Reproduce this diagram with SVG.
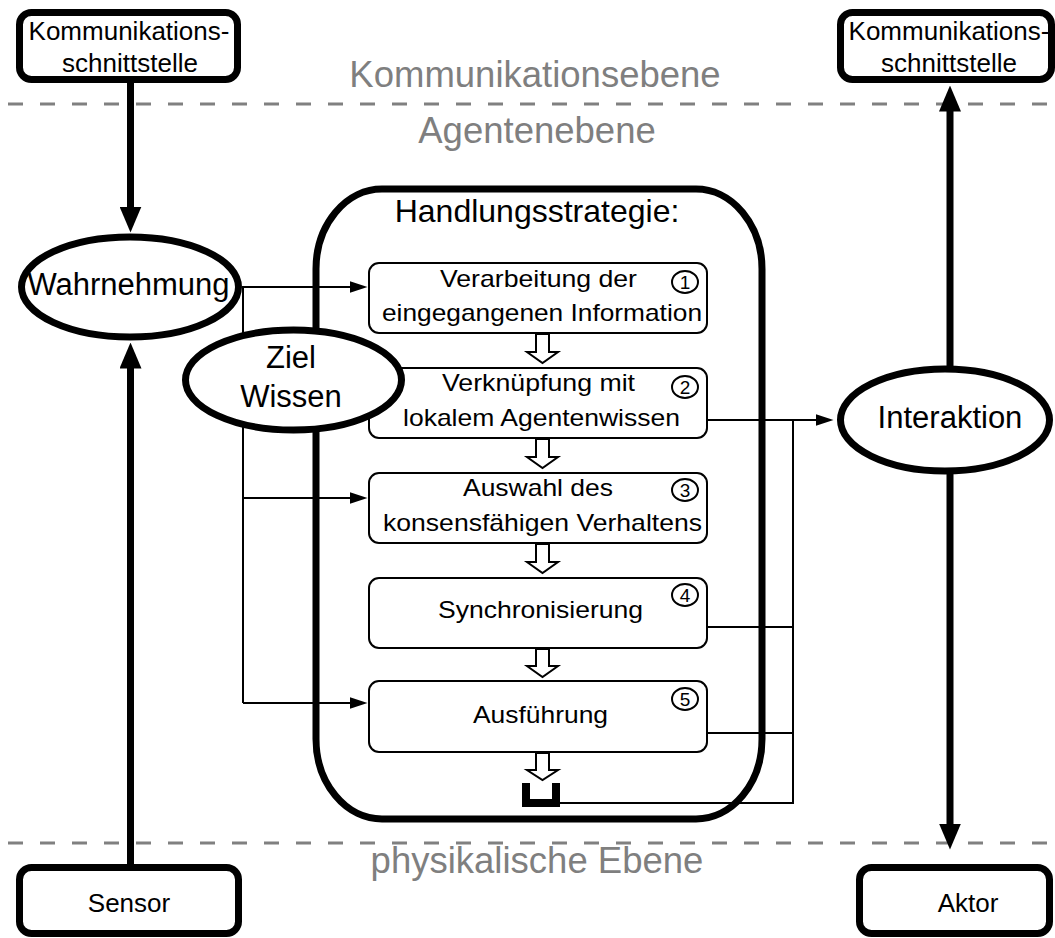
<svg xmlns="http://www.w3.org/2000/svg" width="1055" height="938" viewBox="0 0 1055 938">
  <style>
    .txt { font-family: "Liberation Sans", Arial, sans-serif; fill: #000; }
    .layer { font-family: "Liberation Sans", Arial, sans-serif; fill: #7f7f7f; font-size: 36.5px; text-anchor: middle; }
    .sep { stroke: #808080; stroke-width: 3; stroke-dasharray: 15 17; fill: none; }
    .iface { fill: #fff; stroke: #000; stroke-width: 7; }
    .oval { fill: #fff; stroke: #000; stroke-width: 7; }
    .step { fill: #fff; stroke: #000; stroke-width: 2; }
    .steptxt { font-family: "Liberation Sans", Arial, sans-serif; fill: #000; font-size: 24px; }
    .num { fill: #fff; stroke: #000; stroke-width: 2; }
    .numtxt { font-family: "Liberation Sans", Arial, sans-serif; fill: #000; font-size: 19px; text-anchor: middle; }
    .thick { stroke: #000; stroke-width: 7; fill: none; }
    .thin { stroke: #000; stroke-width: 2; fill: none; }
    .flow { fill: #fff; stroke: #000; stroke-width: 2; stroke-linejoin: miter; }
  </style>
  <defs>
    <marker id="headBig" markerUnits="userSpaceOnUse" viewBox="0 0 26 22" markerWidth="26" markerHeight="22" refX="0.5" refY="11" orient="auto">
      <path d="M0,0 L26,11 L0,22 z" fill="#000"/>
    </marker>
    <marker id="headSmall" markerUnits="userSpaceOnUse" viewBox="0 0 18 12" markerWidth="18" markerHeight="12" refX="0.5" refY="6" orient="auto">
      <path d="M0,0 L18,6 L0,12 z" fill="#000"/>
    </marker>
  </defs>

  <rect width="1055" height="938" fill="#fff"/>

  <!-- layer separators and labels -->
  <g id="layers">
    <line class="sep" x1="8" y1="104" x2="1055" y2="104"/>
    <line class="sep" x1="8" y1="843" x2="1055" y2="843"/>
    <text class="layer" x="535" y="87">Kommunikationsebene</text>
    <text class="layer" x="537" y="143">Agentenebene</text>
    <text class="layer" x="537" y="873">physikalische Ebene</text>
  </g>

  <!-- strategy container -->
  <g id="strategie">
    <rect x="316" y="189" width="446" height="630" rx="66" ry="80" fill="#fff" stroke="#000" stroke-width="7"/>
    <text class="txt" x="537" y="222" font-size="32" text-anchor="middle">Handlungsstrategie:</text>
  </g>

  <!-- process steps -->
  <g id="step1">
    <rect class="step" x="369" y="263" width="338" height="70" rx="10"/>
    <text class="steptxt" x="440" y="287" textLength="197" lengthAdjust="spacingAndGlyphs">Verarbeitung der</text>
    <text class="steptxt" x="382" y="321" textLength="320" lengthAdjust="spacingAndGlyphs">eingegangenen Information</text>
    <ellipse class="num" cx="685" cy="282" rx="13" ry="11"/>
    <text class="numtxt" x="685" y="289">1</text>
  </g>
  <g id="step2">
    <rect class="step" x="369" y="368" width="338" height="70" rx="10"/>
    <text class="steptxt" x="442" y="391" textLength="193" lengthAdjust="spacingAndGlyphs">Verknüpfung mit</text>
    <text class="steptxt" x="403" y="426" textLength="277" lengthAdjust="spacingAndGlyphs">lokalem Agentenwissen</text>
    <ellipse class="num" cx="685" cy="387" rx="13" ry="11"/>
    <text class="numtxt" x="685" y="394">2</text>
  </g>
  <g id="step3">
    <rect class="step" x="369" y="473" width="338" height="70" rx="10"/>
    <text class="steptxt" x="463" y="496" textLength="150" lengthAdjust="spacingAndGlyphs">Auswahl des</text>
    <text class="steptxt" x="383" y="531" textLength="319" lengthAdjust="spacingAndGlyphs">konsensfähigen Verhaltens</text>
    <ellipse class="num" cx="685" cy="490" rx="13" ry="11"/>
    <text class="numtxt" x="685" y="497">3</text>
  </g>
  <g id="step4">
    <rect class="step" x="369" y="578" width="338" height="70" rx="10"/>
    <text class="steptxt" x="438" y="618" textLength="205" lengthAdjust="spacingAndGlyphs">Synchronisierung</text>
    <ellipse class="num" cx="685" cy="595" rx="13" ry="11"/>
    <text class="numtxt" x="685" y="602">4</text>
  </g>
  <g id="step5">
    <rect class="step" x="369" y="681" width="338" height="71" rx="10"/>
    <text class="steptxt" x="473" y="723" textLength="135" lengthAdjust="spacingAndGlyphs">Ausführung</text>
    <ellipse class="num" cx="685" cy="699" rx="13" ry="11"/>
    <text class="numtxt" x="685" y="706">5</text>
  </g>

  <!-- end of sequence -->
  <g id="ende">
    <path d="M526 783 V803 H556 V783" fill="none" stroke="#000" stroke-width="8"/>
  </g>

  <!-- connectors -->
  <g id="connectors">
    <!-- hollow sequence arrows -->
    <polygon class="flow" points="536,334 549,334 549,352 558,352 542.5,363 527,352 536,352"/>
    <polygon class="flow" points="536,439 549,439 549,457 558,457 542.5,468 527,457 536,457"/>
    <polygon class="flow" points="536,544 549,544 549,562 558,562 542.5,573 527,562 536,562"/>
    <polygon class="flow" points="536,649 549,649 549,666 558,666 542.5,677 527,666 536,666"/>
    <polygon class="flow" points="536,753 549,753 549,770 558,770 542.5,780 527,770 536,770"/>

    <!-- perception / goal inputs -->
    <path class="thin" d="M242 287 H350" marker-end="url(#headSmall)"/>
    <path class="thin" d="M243 287 V703"/>
    <path class="thin" d="M243 498 H350" marker-end="url(#headSmall)"/>
    <path class="thin" d="M243 703 H350" marker-end="url(#headSmall)"/>

    <!-- outputs to interaction -->
    <path class="thin" d="M707 420 H816" marker-end="url(#headSmall)"/>
    <path class="thin" d="M707 627 H793"/>
    <path class="thin" d="M707 733 H793"/>
    <path class="thin" d="M560 803 H793 V420"/>

    <!-- interface links -->
    <line class="thick" x1="130.5" y1="83" x2="130.5" y2="207" marker-end="url(#headBig)"/>
    <line class="thick" x1="130.5" y1="864" x2="130.5" y2="368" marker-end="url(#headBig)"/>
    <line class="thick" x1="950" y1="366" x2="950" y2="111" marker-end="url(#headBig)"/>
    <line class="thick" x1="950" y1="473" x2="950" y2="824" marker-end="url(#headBig)"/>
  </g>

  <!-- agent elements -->
  <g id="wahrnehmung">
    <ellipse class="oval" cx="130" cy="287" rx="108.5" ry="50"/>
    <text class="txt" x="128.5" y="295" font-size="31" text-anchor="middle">Wahrnehmung</text>
  </g>
  <g id="ziel-wissen">
    <ellipse class="oval" cx="293.5" cy="380" rx="108" ry="50"/>
    <text class="txt" x="291" y="368" font-size="31" text-anchor="middle">Ziel</text>
    <text class="txt" x="291" y="407" font-size="31" text-anchor="middle">Wissen</text>
  </g>
  <g id="interaktion">
    <ellipse class="oval" cx="945" cy="420" rx="104.5" ry="51"/>
    <text class="txt" x="950" y="428" font-size="31" text-anchor="middle">Interaktion</text>
  </g>

  <!-- interfaces -->
  <g id="komm-links">
    <rect class="iface" x="19.5" y="12.5" width="218" height="67" rx="12"/>
    <text class="txt" x="129" y="40" font-size="26" text-anchor="middle">Kommunikations-</text>
    <text class="txt" x="130" y="72" font-size="26" text-anchor="middle">schnittstelle</text>
  </g>
  <g id="komm-rechts">
    <rect class="iface" x="840.5" y="12.5" width="211" height="67" rx="12"/>
    <text class="txt" x="949" y="40" font-size="26" text-anchor="middle">Kommunikations-</text>
    <text class="txt" x="949" y="72" font-size="26" text-anchor="middle">schnittstelle</text>
  </g>
  <g id="sensor">
    <rect class="iface" x="19.5" y="867.5" width="219" height="66" rx="12"/>
    <text class="txt" x="129" y="912" font-size="26" text-anchor="middle">Sensor</text>
  </g>
  <g id="aktor">
    <rect class="iface" x="859.5" y="867.5" width="190" height="66" rx="12"/>
    <text class="txt" x="968" y="912" font-size="26" text-anchor="middle">Aktor</text>
  </g>
</svg>
